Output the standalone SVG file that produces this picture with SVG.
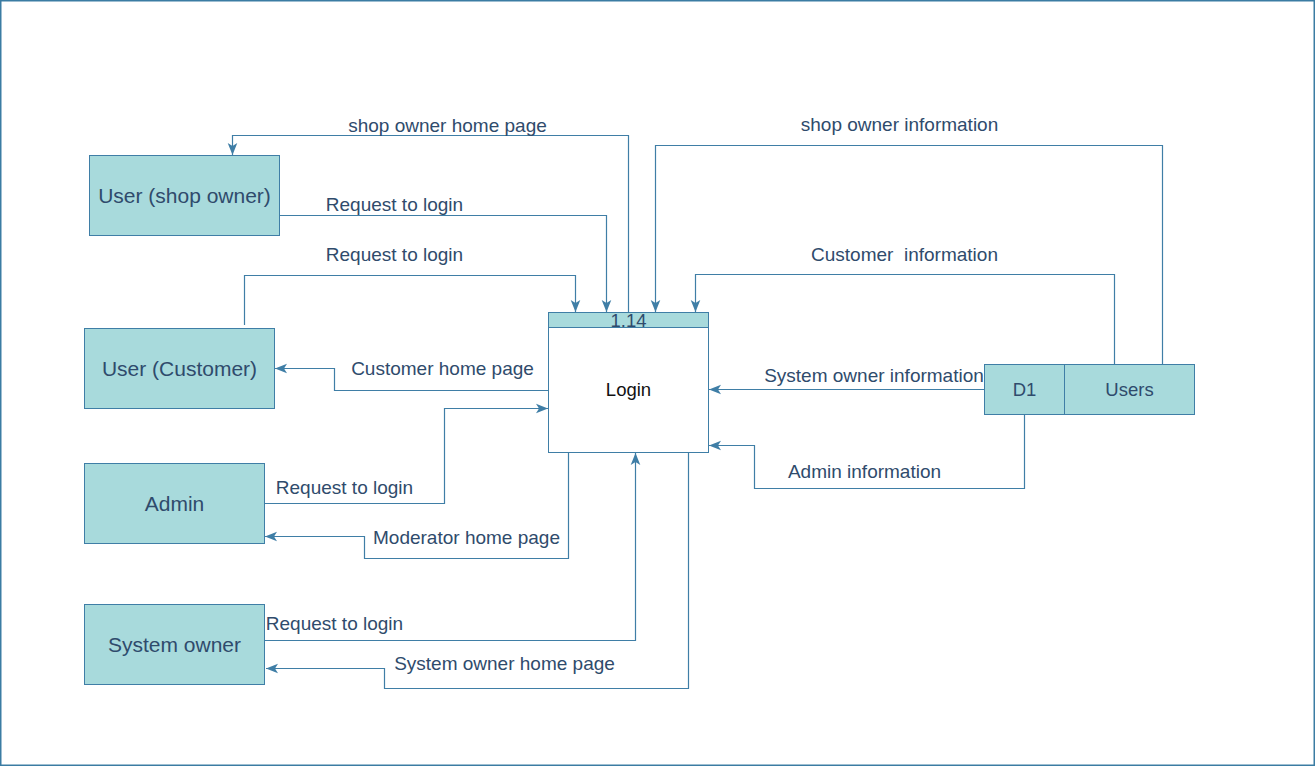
<svg xmlns="http://www.w3.org/2000/svg" width="1316" height="767" viewBox="0 0 1316 767">
<defs>
<style>
.frame{fill:#ffffff;stroke:#3b7ca3;stroke-width:1.5}
.ent{fill:#a8dadc;stroke:#3f7ea6;stroke-width:1}
.proc{fill:#ffffff;stroke:#3f7ea6;stroke-width:1}
.etext{font-family:"Liberation Sans",Arial,sans-serif;font-size:21px;fill:#2f4b6c;text-anchor:middle}
.ptext{font-family:"Liberation Sans",Arial,sans-serif;font-size:18.5px;fill:#2f4b6c;text-anchor:middle}
.lbl{font-family:"Liberation Sans",Arial,sans-serif;font-size:19px;fill:#2f4b6c;text-anchor:middle;white-space:pre}
.conn path{fill:none;stroke:#3f7ea6;stroke-width:1.2;marker-end:url(#arr)}
</style>
<marker id="arr" markerUnits="userSpaceOnUse" markerWidth="12" markerHeight="12" viewBox="0 0 10 10" refX="10" refY="5" orient="auto">
<path d="M0,1 L10,5 L0,9 L2.5,5 z" fill="#3f7ea6"/>
</marker>
</defs>
<rect class="frame" x="0.75" y="0.75" width="1313.5" height="764.5"/>

<g id="node-shop-owner">
<rect class="ent" x="89.5" y="155.5" width="190" height="80"/>
<text class="etext" x="184.5" y="202.5">User (shop owner)</text>
</g>
<g id="node-customer">
<rect class="ent" x="84.5" y="328.5" width="190" height="80"/>
<text class="etext" x="179.5" y="375.5">User (Customer)</text>
</g>
<g id="node-admin">
<rect class="ent" x="84.5" y="463.5" width="180" height="80"/>
<text class="etext" x="174.5" y="510.5">Admin</text>
</g>
<g id="node-system-owner">
<rect class="ent" x="84.5" y="604.5" width="180" height="80"/>
<text class="etext" x="174.5" y="651.5">System owner</text>
</g>
<g id="node-login">
<rect class="proc" x="548.5" y="312.5" width="160" height="140"/>
<rect class="ent" x="548.5" y="312.5" width="160" height="15"/>
<text class="ptext" x="628.5" y="326.5">1.14</text>
<text class="ptext" x="628.5" y="396" style="fill:#111111">Login</text>
</g>
<g id="node-d1-users">
<rect class="ent" x="984.5" y="364.5" width="210" height="50"/>
<line x1="1064.5" y1="364.5" x2="1064.5" y2="414.5" stroke="#3f7ea6" stroke-width="1"/>
<text class="ptext" x="1024.5" y="395.5">D1</text>
<text class="ptext" x="1129.5" y="395.5">Users</text>
</g>

<g id="connectors" class="conn">
<path d="M628.5,312.5 V135.5 H232.5 V155"/>
<path d="M279.5,215.5 H606.5 V312"/>
<path d="M244.5,325 V275.5 H575.5 V312"/>
<path d="M1162.5,364.5 V145.5 H655.5 V312"/>
<path d="M1114.5,364.5 V274.5 H695.5 V312"/>
<path d="M548.5,390.5 H334.5 V368.5 H275"/>
<path d="M264.5,503.5 H444.5 V408.5 H548"/>
<path d="M568.5,452.5 V558.5 H364.5 V536.5 H265"/>
<path d="M264.5,640.5 H635.5 V453"/>
<path d="M688.5,452.5 V688.5 H384.5 V668.5 H266"/>
<path d="M984.5,389.5 H709"/>
<path d="M1024.5,414.5 V488.5 H754.5 V445.5 H709"/>
</g>

<g id="labels">
<text class="lbl" x="447.5" y="132">shop owner home page</text>
<text class="lbl" x="394.5" y="211">Request to login</text>
<text class="lbl" x="394.5" y="261">Request to login</text>
<text class="lbl" x="899.5" y="131">shop owner information</text>
<text class="lbl" x="904.5" y="261">Customer  information</text>
<text class="lbl" x="442.5" y="375">Customer home page</text>
<text class="lbl" x="874" y="382">System owner information</text>
<text class="lbl" x="344.5" y="494">Request to login</text>
<text class="lbl" x="466.5" y="544">Moderator home page</text>
<text class="lbl" x="864.5" y="478">Admin information</text>
<text class="lbl" x="334.5" y="630">Request to login</text>
<text class="lbl" x="504.5" y="670">System owner home page</text>
</g>
</svg>
